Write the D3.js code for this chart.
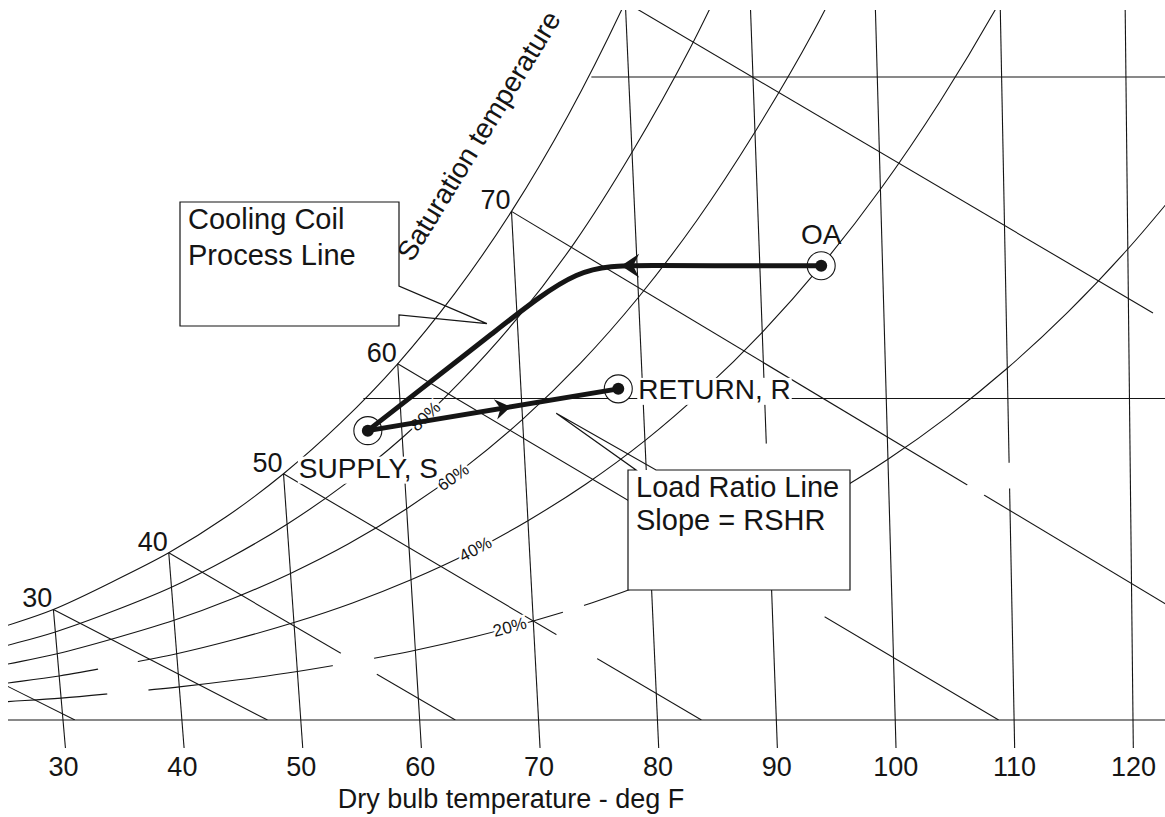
<!DOCTYPE html>
<html lang="en">
<head>
<meta charset="UTF-8">
<script src="https://d3js.org/d3.v7.min.js"></script>
<style>
  body { margin: 0; background: #fff; }
  svg { display: block; font-family: "Liberation Sans", Arial, sans-serif; }
</style>
</head>
<body>
<script>
  // dry bulb lines (deg F) and the saturation humidity ratio where each one stops
  const dbTemps = [30, 40, 50, 60, 70, 80, 90, 100, 110, 120];
  const dbSatW = [0.00344, 0.00520, 0.00766, 0.01108, 0.01582, 0.02233, null, null, null, null];
  const dbGaps = { 90: [[0.0076, 0.0086]], 110: [[0.0072, 0.0080]] };

  // saturation curve (lb water / lb dry air)
  const satTemps = [20, 25, 30, 35, 40, 45, 50, 55, 60, 65, 70, 75, 80, 85];
  const satW = [0.00214, 0.00281, 0.00344, 0.00428, 0.00520, 0.00632, 0.00766, 0.00924,
                0.01108, 0.01326, 0.01582, 0.01882, 0.02233, 0.02641];
  const satLabels = [30, 40, 50, 60, 70];

  // relative humidity curves
  const rhTemps = [20, 25, 30, 35, 40, 45, 50, 55, 60, 65, 70, 75, 80, 85, 90, 95, 100, 105, 110, 115, 120, 125];
  const rh80 = [0.00171, 0.00223, 0.00274, 0.00339, 0.00413, 0.00504, 0.00609, 0.00733, 0.00878,
                0.01050, 0.01249, 0.01485, 0.01766, 0.02087, 0.02460];
  const rh60 = [0.00128, 0.00168, 0.00206, 0.00255, 0.00310, 0.00377, 0.00456, 0.00548, 0.00657,
                0.00785, 0.00935, 0.01110, 0.01315, 0.01553, 0.01829, 0.02142, 0.02510];
  const rh40 = [0.00086, 0.00112, 0.00137, 0.00170, 0.00206, 0.00251, 0.00303, 0.00364, 0.00436,
                0.00520, 0.00620, 0.00735, 0.00869, 0.01026, 0.01206, 0.01413, 0.01651, 0.01924,
                0.02236, 0.02598];
  const rh20 = [0.00043, 0.00056, 0.00068, 0.00085, 0.00103, 0.00125, 0.00151, 0.00182, 0.00217,
                0.00259, 0.00308, 0.00365, 0.00431, 0.00507, 0.00595, 0.00696, 0.00811, 0.00943,
                0.01094, 0.01267, 0.01465, 0.01690];
  const rhNames = ["80%", "60%", "40%", "20%"];
  const rhLabelT = [62, 64, 65.5, 68];
  const rhLabelW = [0.00945, 0.00756, 0.00532, 0.00290];
  const rhGaps = { "40%": [[33.3, 36.7]], "20%": [[33.9, 37.4], [53, 56.5], [72.5, 74.3]] };

  // wet bulb / enthalpy lines: start on saturation, end at the lower right
  const wbStartT = [20, 30, 40, 50, 60, 70, 80];
  const wbStartW = [0.00214, 0.00344, 0.00520, 0.00766, 0.01108, 0.01582, 0.02233];
  const wbEndT = [31, 47.2, 63.0, 83.7, 108.7, 139, 122];
  const wbEndW = [0, 0, 0, 0, 0, 0, 0.01266];
  const wbGaps = [[], [], [[53.8, 56.7]], [[72.0, 75.3]], [[90.6, 94.6]], [[107.1, 108.5]], []];

  // constant humidity ratio lines
  const hLineW = [0.010, 0.020];
  const hLineStartT = [57, 77];

  // state points and processes
  const stateNames = ["OA", "RETURN, R", "SUPPLY, S"];
  const stateT = [95, 78, 57.2];
  const stateW = [0.01413, 0.0103, 0.0090];
  // cooling coil path, control points from OA to supply
  const coilT = [95, 80.2, 75.3, 68.6, 57.2];
  const coilW = [0.01413, 0.01413, 0.01415, 0.01222, 0.0090];

  const width = 1165, height = 817;
  const ink = "#151515";
  const fontSize = 27;

  const xScale = d3.scaleLinear().domain([30, 120]).range([63, 1133]);
  const yScale = d3.scaleLinear().domain([0, 0.02]).range([720, 77]);
  const skewScale = d3.scaleLinear().domain([30, 120]).range([0.087, 0.011]);
  const chart = { left: 8, top: 10, right: width, bottom: yScale(0) };
  const topW = yScale.invert(chart.top);
  const tickW = yScale.invert(chart.bottom + 28);

  // skewed psychrometric projection
  function px(t, w) {
    const y = yScale(w);
    return [xScale(t) - skewScale(t) * (yScale(0) - y), y];
  }

  const svg = d3.select("body").append("svg")
    .attr("width", width).attr("height", height);
  const defs = svg.append("defs");

  defs.append("clipPath").attr("id", "plot")
    .append("rect")
    .attr("x", chart.left).attr("y", chart.top)
    .attr("width", chart.right - chart.left).attr("height", chart.bottom - chart.top);

  let maskId = 0;
  function gapMask(circles) {
    const id = "gap" + (maskId++);
    const m = defs.append("mask").attr("id", id)
      .attr("maskUnits", "userSpaceOnUse")
      .attr("x", 0).attr("y", 0).attr("width", width).attr("height", height);
    m.append("rect").attr("width", width).attr("height", height).attr("fill", "#fff");
    circles.forEach(c => m.append("circle").attr("cx", c[0]).attr("cy", c[1]).attr("r", c[2]).attr("fill", "#000"));
    return "url(#" + id + ")";
  }
  function gapCircle(a, b) {
    const r = Math.hypot(b[0] - a[0], b[1] - a[1]) / 2;
    return [(a[0] + b[0]) / 2, (a[1] + b[1]) / 2, r];
  }

  const curve = d3.line()
    .x(d => px(d[0], d[1])[0])
    .y(d => px(d[0], d[1])[1])
    .curve(d3.curveCatmullRom.alpha(0.5));
  const straight = d3.line()
    .x(d => px(d[0], d[1])[0])
    .y(d => px(d[0], d[1])[1]);
  const smooth = d3.line()
    .x(d => px(d[0], d[1])[0])
    .y(d => px(d[0], d[1])[1])
    .curve(d3.curveBasis);

  const grid = svg.append("g")
    .attr("clip-path", "url(#plot)")
    .attr("fill", "none")
    .attr("stroke", ink)
    .attr("stroke-width", 1.1);

  // saturation curve
  grid.append("path")
    .attr("d", curve(satTemps.map((t, i) => [t, satW[i]])));

  // RH curves
  const rhData = [rh80, rh60, rh40, rh20];
  rhData.forEach((vals, k) => {
    const pts = vals.map((w, i) => [rhTemps[i], w]);
    const wAt = d3.scaleLinear().domain(pts.map(d => d[0])).range(pts.map(d => d[1]));
    const gaps = (rhGaps[rhNames[k]] || []).map(g => gapCircle(px(g[0], wAt(g[0])), px(g[1], wAt(g[1]))));
    const p = grid.append("path").attr("d", curve(pts));
    if (gaps.length) p.attr("mask", gapMask(gaps));
  });

  // wet bulb lines
  wbStartT.forEach((t0, i) => {
    const a = px(t0, wbStartW[i]);
    const b = px(wbEndT[i], wbEndW[i]);
    const along = t => {
      const f = (t - t0) / (wbEndT[i] - t0);
      return [a[0] + f * (b[0] - a[0]), a[1] + f * (b[1] - a[1])];
    };
    const p = grid.append("path")
      .attr("d", straight([[t0, wbStartW[i]], [wbEndT[i], wbEndW[i]]]));
    if (wbGaps[i].length) p.attr("mask", gapMask(wbGaps[i].map(g => gapCircle(along(g[0]), along(g[1])))));
  });

  // humidity ratio lines
  hLineW.forEach((w, i) => {
    grid.append("path").attr("d", straight([[hLineStartT[i], w], [125, w]]));
  });

  // dry bulb lines run below the base line to the tick labels
  const dbGroup = svg.append("g").attr("fill", "none").attr("stroke", ink).attr("stroke-width", 1.1);
  dbTemps.forEach((t, i) => {
    const wTop = dbSatW[i] === null ? topW : Math.min(dbSatW[i], topW);
    const p = dbGroup.append("path").attr("d", straight([[t, wTop], [t, tickW]]));
    if (dbGaps[t]) p.attr("mask", gapMask(dbGaps[t].map(g => gapCircle(px(t, g[0]), px(t, g[1])))));
  });

  // base line
  svg.append("line")
    .attr("x1", chart.left).attr("x2", chart.right)
    .attr("y1", yScale(0)).attr("y2", yScale(0))
    .attr("stroke", ink).attr("stroke-width", 1.2);

  // axis labels
  svg.append("g")
    .attr("transform", `translate(0,${chart.bottom + 28})`)
    .call(d3.axisBottom(xScale).tickValues(dbTemps).tickSize(0).tickPadding(9))
    .call(g => g.select(".domain").remove())
    .selectAll("text")
    .attr("font-size", fontSize)
    .attr("font-family", "'Liberation Sans', Arial, sans-serif")
    .attr("fill", ink);

  svg.append("text")
    .attr("x", 511).attr("y", 808)
    .attr("text-anchor", "middle")
    .attr("font-size", fontSize).attr("fill", ink)
    .text("Dry bulb temperature - deg F");

  // saturation temperature labels
  satLabels.forEach(t => {
    const p = px(t, satW[satTemps.indexOf(t)]);
    svg.append("text")
      .attr("x", p[0] - 1).attr("y", p[1] - 2)
      .attr("text-anchor", "end")
      .attr("font-size", fontSize).attr("fill", ink)
      .text(t);
  });

  svg.append("text")
    .attr("transform", "translate(412,263) rotate(-58.5)")
    .attr("font-size", 28).attr("fill", ink)
    .text("Saturation temperature");

  // RH labels sit on their curves
  rhNames.forEach((name, k) => {
    const vals = rhData[k];
    const wAt = d3.scaleLinear().domain(rhTemps.slice(0, vals.length)).range(vals);
    const t = rhLabelT[k];
    const p = px(t, rhLabelW[k]);
    const a = px(t - 1, wAt(t - 1)), b = px(t + 1, wAt(t + 1));
    const ang = Math.atan2(b[1] - a[1], b[0] - a[0]) * 180 / Math.PI;
    svg.append("text")
      .attr("transform", `translate(${p[0]},${p[1]}) rotate(${ang})`)
      .attr("text-anchor", "middle").attr("dy", "0.35em")
      .attr("font-size", 17).attr("fill", ink)
      .attr("stroke", "#fff").attr("stroke-width", 5).attr("paint-order", "stroke")
      .text(name);
  });

  // callout boxes
  function callout(box, notchA, tip, notchB, lines, gap, pointerSide) {
    const g = svg.append("g");
    g.append("rect")
      .attr("x", box.x).attr("y", box.y).attr("width", box.w).attr("height", box.h)
      .attr("fill", "#fff");
    let d;
    if (pointerSide === "right") {
      d = `M${box.x},${box.y}H${box.x + box.w}V${notchA}L${tip[0]},${tip[1]}L${box.x + box.w},${notchB}V${box.y + box.h}H${box.x}Z`;
    } else {
      d = `M${box.x},${box.y}H${notchA}L${tip[0]},${tip[1]}L${notchB},${box.y}H${box.x + box.w}V${box.y + box.h}H${box.x}Z`;
    }
    g.append("path").attr("d", d).attr("fill", "none").attr("stroke", ink).attr("stroke-width", 1.2);
    lines.forEach((txt, i) => {
      g.append("text")
        .attr("x", box.x + 8).attr("y", box.y + 27 + i * gap)
        .attr("font-size", 29).attr("fill", ink)
        .text(txt);
    });
  }
  callout({ x: 180, y: 202, w: 219, h: 124 }, 286, px(67.5, 0.01233), 315,
    ["Cooling Coil", "Process Line"], 36, "right");
  callout({ x: 628, y: 470, w: 222, h: 120 }, 636, px(72.8, 0.00954), 656,
    ["Load Ratio Line", "Slope = RSHR"], 33, "top");

  // state point labels (white backing hides the grid beneath)
  const statePx = stateT.map((t, i) => px(t, stateW[i]));
  const labelSpec = [
    { dx: 0, dy: -22, anchor: "middle", back: false },
    { dx: 20, dy: 10, anchor: "start", back: true },
    { dx: -69, dy: 47, anchor: "start", back: true }
  ];
  stateNames.forEach((name, i) => {
    const s = labelSpec[i];
    const g = svg.append("g");
    const t = g.append("text")
      .attr("x", statePx[i][0] + s.dx).attr("y", statePx[i][1] + s.dy)
      .attr("text-anchor", s.anchor)
      .attr("font-size", 28).attr("fill", ink)
      .text(name);
    if (s.back) {
      const bb = t.node().getBBox();
      g.insert("rect", () => t.node())
        .attr("x", bb.x - 1).attr("y", bb.y + 4)
        .attr("width", bb.width + 2).attr("height", bb.height - 4)
        .attr("fill", "#fff");
    }
  });

  // rings around state points
  svg.append("g").selectAll("circle")
    .data(statePx).join("circle")
    .attr("cx", d => d[0]).attr("cy", d => d[1]).attr("r", 14)
    .attr("fill", "#fff").attr("stroke", ink).attr("stroke-width", 1.1);

  // processes
  const proc = svg.append("g").attr("fill", "none").attr("stroke", ink)
    .attr("stroke-width", 5).attr("stroke-linecap", "round");
  proc.append("path").attr("d", smooth(coilT.map((t, i) => [t, coilW[i]])));
  proc.append("path").attr("d", straight([[stateT[2], stateW[2]], [stateT[1], stateW[1]]]));

  const arrowShape = "M0,0L-18,-12L-12,0L-18,12Z";
  const coilArrow = px(78.7, coilW[0]);
  svg.append("path")
    .attr("d", arrowShape).attr("fill", ink)
    .attr("transform", `translate(${coilArrow[0]},${coilArrow[1]}) rotate(180)`);
  const sP = statePx[2], rP = statePx[1];
  const f = 0.57;
  const la = [sP[0] + f * (rP[0] - sP[0]), sP[1] + f * (rP[1] - sP[1])];
  const lang = Math.atan2(rP[1] - sP[1], rP[0] - sP[0]) * 180 / Math.PI;
  svg.append("path")
    .attr("d", arrowShape).attr("fill", ink)
    .attr("transform", `translate(${la[0]},${la[1]}) rotate(${lang}) scale(0.85)`);

  // dots
  svg.append("g").selectAll("circle")
    .data(statePx).join("circle")
    .attr("cx", d => d[0]).attr("cy", d => d[1]).attr("r", 6)
    .attr("fill", ink);
</script>
</body>
</html>
